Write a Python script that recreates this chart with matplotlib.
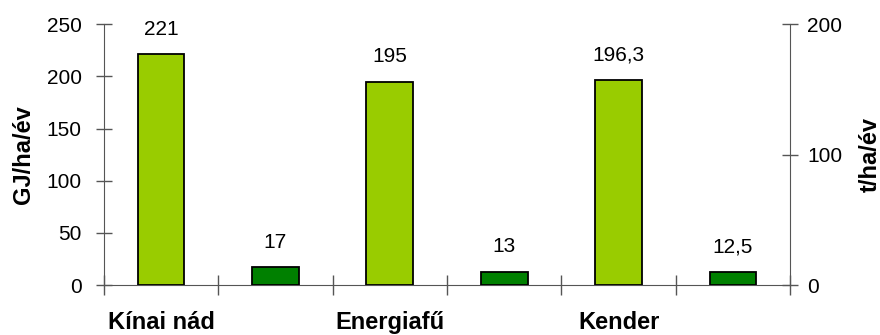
import matplotlib.pyplot as plt
import matplotlib.transforms as mtransforms

# adatok
slots = ['Kínai nád', '', 'Energiafű', '', 'Kender', '']
energia = [221, None, 195, None, 196.3, None]       # GJ/ha/év
tomeg = [None, 17, None, 13, None, 12.5]             # t/ha/év
light = '#99CC00'
dark = '#008000'

plt.rcParams['font.family'] = ['Liberation Sans', 'DejaVu Sans']

fig = plt.figure(figsize=(8.8, 3.35), dpi=100)
ax = fig.add_axes([0.118, 0.149, 0.780, 0.779])

x = list(range(len(slots)))
for i in x:
    if energia[i] is not None:
        ax.bar(i, energia[i], width=0.41, color=light, edgecolor='black', linewidth=1.3, zorder=3)
        ax.text(i, energia[i] + 15, f"{energia[i]:g}".replace('.', ','), ha='center', va='bottom', fontsize=15)
    if tomeg[i] is not None:
        ax.bar(i, tomeg[i], width=0.41, color=dark, edgecolor='black', linewidth=1.3, zorder=3)
        ax.text(i, tomeg[i] + 15, f"{tomeg[i]:g}".replace('.', ','), ha='center', va='bottom', fontsize=15)

ax.set_xlim(-0.5, len(slots) - 0.5)
ax.set_ylim(0, 250)
ax.set_yticks([0, 50, 100, 150, 200, 250])
ax.set_xticks([i - 0.5 for i in range(len(slots) + 1)])
ax.set_xticklabels([])
ax.tick_params(axis='y', direction='inout', length=12, width=1, color='#555555', labelsize=15, pad=10)
ax.tick_params(axis='x', direction='inout', length=14, width=1, color='#555555')
ax.spines['top'].set_visible(False)
ax.spines['right'].set_visible(False)
for s in ['left', 'bottom']:
    ax.spines[s].set_color('#555555')
ax.set_ylabel('GJ/ha/év', fontsize=17, fontweight='bold', labelpad=8)

trans = mtransforms.blended_transform_factory(ax.transData, ax.transAxes)
for i, name in enumerate(slots):
    if name:
        ax.text(i, -0.1, name, transform=trans, ha='center', va='top', fontsize=17, fontweight='bold')

ax2 = ax.twinx()
ax2.set_ylim(0, 200)
ax2.set_yticks([0, 100, 200])
ax2.tick_params(axis='y', direction='inout', length=12, width=1, color='#555555', labelsize=15, pad=6)
for s in ['top', 'left', 'bottom']:
    ax2.spines[s].set_visible(False)
ax2.spines['right'].set_color('#555555')
ax2.set_ylabel('t/ha/év', fontsize=17, fontweight='bold', labelpad=12)

fig.savefig('out.png', dpi=100)
